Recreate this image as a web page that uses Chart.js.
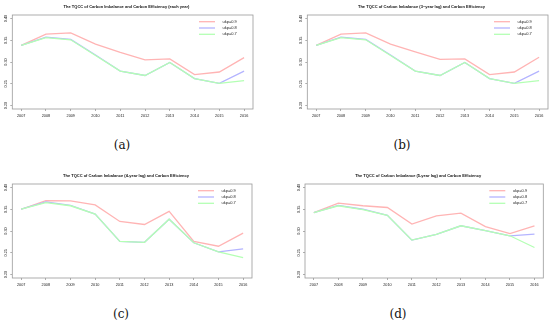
<!DOCTYPE html>
<html>
<head>
<meta charset="utf-8">
<script src="https://cdn.jsdelivr.net/npm/chart.js@4.4.0/dist/chart.umd.min.js"></script>
<style>
    body { margin: 0; background: #fff; }
    #wrap { position: relative; width: 550px; height: 324px; overflow: hidden; }
    canvas { position: absolute; }
    .cap {
        position: absolute;
        font-family: "DejaVu Serif", "Liberation Serif", serif;
        font-size: 12px;
        color: #111;
        transform: translate(-50%, -50%);
    }
</style>
</head>
<body>
<div id="wrap">
    <canvas id="chartA" width="275" height="130" style="left:0px;top:0px"></canvas>
    <canvas id="chartB" width="255" height="130" style="left:295px;top:0px"></canvas>
    <canvas id="chartC" width="275" height="130" style="left:0px;top:169px"></canvas>
    <canvas id="chartD" width="257" height="130" style="left:293px;top:169px"></canvas>
    <div class="cap" style="left:122px;top:145px">(a)</div>
    <div class="cap" style="left:402px;top:145px">(b)</div>
    <div class="cap" style="left:121px;top:314px">(c)</div>
    <div class="cap" style="left:398px;top:314px">(d)</div>
</div>
<script>
// Datos
const years = [2007, 2008, 2009, 2010, 2011, 2012, 2013, 2014, 2015, 2016];
const yTicks = [0.20, 0.25, 0.30, 0.35, 0.40];
const legendLabels = ['ukp=0.9', 'ukp=0.8', 'ukp=0.7'];

// (a) each year
const eachYear09 = [0.338, 0.364, 0.367, 0.341, 0.322, 0.305, 0.307, 0.271, 0.277, 0.310];
const eachYear08 = [0.338, 0.357, 0.352, 0.316, 0.279, 0.269, 0.299, 0.262, 0.251, 0.279];
const eachYear07 = [0.338, 0.356, 0.351, 0.315, 0.279, 0.269, 0.299, 0.262, 0.251, 0.257];

// (b) 3-year lag
const lag3_09 = [0.338, 0.364, 0.367, 0.341, 0.323, 0.306, 0.307, 0.271, 0.277, 0.311];
const lag3_08 = [0.338, 0.357, 0.352, 0.316, 0.279, 0.269, 0.299, 0.262, 0.251, 0.279];
const lag3_07 = [0.338, 0.356, 0.351, 0.315, 0.279, 0.269, 0.299, 0.262, 0.251, 0.257];

// (c) 4-year lag
const lag4_09 = [0.350, 0.370, 0.369, 0.360, 0.322, 0.315, 0.345, 0.276, 0.265, 0.295];
const lag4_08 = [0.350, 0.367, 0.359, 0.339, 0.276, 0.274, 0.327, 0.273, 0.252, 0.259];
const lag4_07 = [0.350, 0.365, 0.358, 0.339, 0.276, 0.274, 0.327, 0.273, 0.252, 0.239];

// (d) 5-year lag
const lag5_09 = [0.342, 0.364, 0.358, 0.354, 0.316, 0.335, 0.341, 0.310, 0.294, 0.312];
const lag5_08 = [0.342, 0.359, 0.350, 0.336, 0.279, 0.292, 0.312, 0.301, 0.289, 0.293];
const lag5_07 = [0.342, 0.358, 0.349, 0.336, 0.279, 0.292, 0.312, 0.301, 0.289, 0.262];

const lineColors = ['#ffb4b4', '#b4b4ff', '#b4ffb4'];
const fontFamily = '"Liberation Sans", Arial, sans-serif';

// caja del grafico y leyenda
const boxAndLegend = {
    id: 'boxAndLegend',
    afterDatasetsDraw(chart) {
        const ctx = chart.ctx;
        const a = chart.chartArea;
        ctx.save();
        ctx.strokeStyle = '#9a9a9a';
        ctx.lineWidth = 0.8;
        ctx.strokeRect(a.left, a.top, a.right - a.left, a.bottom - a.top);

        ctx.font = '4px ' + fontFamily;
        ctx.textBaseline = 'middle';
        ctx.textAlign = 'left';
        chart.data.datasets.forEach((ds, i) => {
            const y = a.top + 6.7 + i * 6.3;
            ctx.strokeStyle = ds.borderColor;
            ctx.lineWidth = 1.3;
            ctx.beginPath();
            ctx.moveTo(a.right - 54, y);
            ctx.lineTo(a.right - 38, y);
            ctx.stroke();
            ctx.fillStyle = '#222';
            ctx.fillText(ds.label, a.right - 30.5, y);
        });
        ctx.restore();
    }
};

function makeChart(id, title, s09, s08, s07, boxLeft, boxRight) {
    const canvas = document.getElementById(id);
    const ctx = canvas.getContext('2d');
    const series = [s09, s08, s07];
    return new Chart(ctx, {
        type: 'line',
        data: {
            labels: years,
            datasets: series.map((s, i) => ({
                label: legendLabels[i],
                data: years.map((yr, j) => ({ x: yr, y: s[j] })),
                borderColor: lineColors[i],
                borderWidth: 1.3,
                pointRadius: 0,
                tension: 0,
                fill: false,
                order: 2 - i   // la ultima serie queda encima
            }))
        },
        options: {
            responsive: false,
            animation: false,
            layout: {
                padding: { left: 0, right: canvas.width - boxRight, top: 0, bottom: 0 }
            },
            plugins: {
                legend: { display: false },
                tooltip: { enabled: false },
                title: {
                    display: true,
                    text: title,
                    color: '#111',
                    font: { family: fontFamily, size: 4, weight: 'bold' },
                    padding: { top: 4.5, bottom: 5.7 }
                }
            },
            scales: {
                x: {
                    type: 'linear',
                    min: 2006.64,
                    max: 2016.36,
                    afterBuildTicks: (scale) => {
                        scale.ticks = years.map(v => ({ value: v }));
                    },
                    afterFit: (scale) => { scale.height = 21; },
                    grid: { display: true, drawOnChartArea: false, drawTicks: true, tickLength: 2, color: '#777', lineWidth: 0.6 },
                    border: { display: false },
                    ticks: {
                        autoSkip: false,
                        maxRotation: 0,
                        padding: 2.7,
                        color: '#222',
                        font: { family: fontFamily, size: 3.8 },
                        callback: (v) => String(v)
                    }
                },
                y: {
                    type: 'linear',
                    min: 0.192,
                    max: 0.408,
                    afterBuildTicks: (scale) => {
                        scale.ticks = yTicks.map(v => ({ value: v }));
                    },
                    afterFit: (scale) => { scale.width = boxLeft; },
                    grid: { display: true, drawOnChartArea: false, drawTicks: true, tickLength: 2, color: '#777', lineWidth: 0.6 },
                    border: { display: false },
                    ticks: {
                        minRotation: 90,
                        maxRotation: 90,
                        crossAlign: 'center',
                        padding: 0.6,
                        color: '#222',
                        font: { family: fontFamily, size: 3.8 },
                        callback: (v) => v.toFixed(2)
                    }
                }
            }
        },
        plugins: [boxAndLegend]
    });
}

makeChart('chartA', 'The TQCC of Carbon Imbalance and Carbon Efficiency (each year)',
    eachYear09, eachYear08, eachYear07, 12.3, 253);
makeChart('chartB', 'The TQCC of Carbon Imbalance (3\u2212year lag) and Carbon Efficiency',
    lag3_09, lag3_08, lag3_07, 12.3, 253);
makeChart('chartC', 'The TQCC of Carbon Imbalance (4-year lag) and Carbon Efficiency',
    lag4_09, lag4_08, lag4_07, 12.3, 252);
makeChart('chartD', 'The TQCC of Carbon Imbalance (5-year lag) and Carbon Efficiency',
    lag5_09, lag5_08, lag5_07, 12, 250.3);
</script>
</body>
</html>
